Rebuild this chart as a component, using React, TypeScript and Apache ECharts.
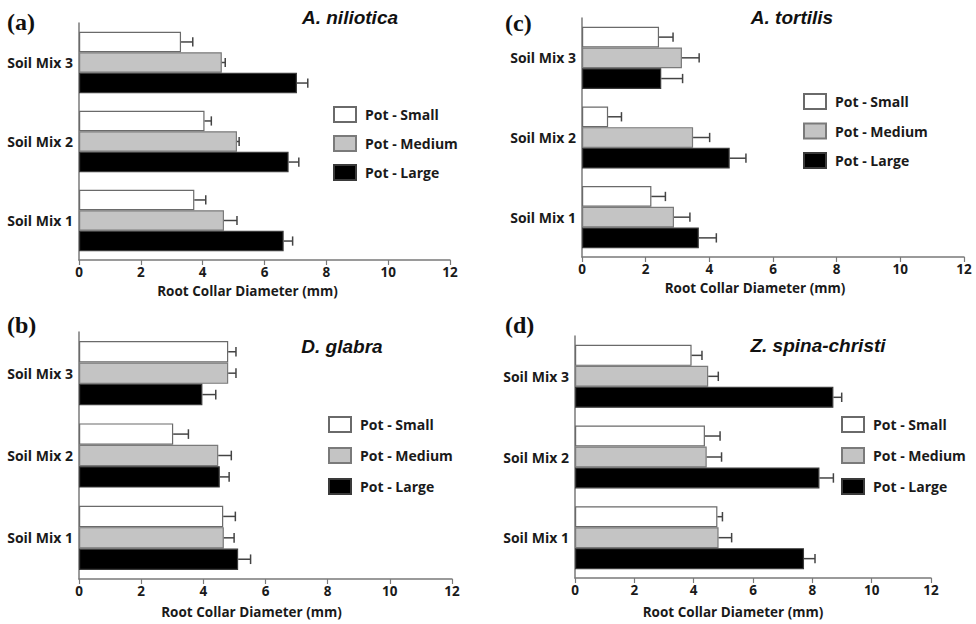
import React, { useEffect, useRef } from "react";
import * as echarts from "echarts";

const categories = ["Soil Mix 1", "Soil Mix 2", "Soil Mix 3"];
const seriesNames = ["Pot - Small", "Pot - Medium", "Pot - Large"];
const axisTitle = "Root Collar Diameter (mm)";
const xMin = 0;
const xMax = 12;
const xStep = 2;

// (a) A. niliotica
const nilSmall = [3.73, 4.06, 3.3];
const nilSmallErr = [0.37, 0.22, 0.38];
const nilMedium = [4.69, 5.11, 4.62];
const nilMediumErr = [0.42, 0.07, 0.11];
const nilLarge = [6.62, 6.78, 7.05];
const nilLargeErr = [0.29, 0.33, 0.35];

// (c) A. tortilis
const torSmall = [2.18, 0.82, 2.42];
const torSmallErr = [0.44, 0.42, 0.44];
const torMedium = [2.89, 3.49, 3.14];
const torMediumErr = [0.5, 0.52, 0.54];
const torLarge = [3.67, 4.64, 2.49];
const torLargeErr = [0.55, 0.51, 0.67];

// (b) D. glabra
const glaSmall = [4.64, 3.03, 4.8];
const glaSmallErr = [0.39, 0.49, 0.25];
const glaMedium = [4.66, 4.48, 4.8];
const glaMediumErr = [0.33, 0.42, 0.25];
const glaLarge = [5.12, 4.53, 3.97];
const glaLargeErr = [0.4, 0.3, 0.43];

// (d) Z. spina-christi
const zizSmall = [4.8, 4.38, 3.93];
const zizSmallErr = [0.17, 0.51, 0.35];
const zizMedium = [4.84, 4.44, 4.49];
const zizMediumErr = [0.44, 0.5, 0.34];
const zizLarge = [7.72, 8.24, 8.71];
const zizLargeErr = [0.37, 0.47, 0.28];

const panels = [
  {
    tag: "(a)", species: "A. niliotica",
    values: [nilSmall, nilMedium, nilLarge], errors: [nilSmallErr, nilMediumErr, nilLargeErr],
    grid: { left: 79, top: 23, width: 371, height: 237 },
    tagPos: [7, 24], titlePos: [350, 17], legendPos: [333, 106], legendGap: 12,
    nameGap: 24, nameShift: 17,
  },
  {
    tag: "(c)", species: "A. tortilis",
    values: [torSmall, torMedium, torLarge], errors: [torSmallErr, torMediumErr, torLargeErr],
    grid: { left: 582, top: 18, width: 382, height: 239 },
    tagPos: [505, 25], titlePos: [792, 17], legendPos: [803, 93], legendGap: 12.5,
    nameGap: 24, nameShift: 18,
  },
  {
    tag: "(b)", species: "D. glabra",
    values: [glaSmall, glaMedium, glaLarge], errors: [glaSmallErr, glaMediumErr, glaLargeErr],
    grid: { left: 79, top: 332, width: 373, height: 247 },
    tagPos: [7, 327], titlePos: [342, 346], legendPos: [328, 416], legendGap: 14,
    nameGap: 26, nameShift: 14,
  },
  {
    tag: "(d)", species: "Z. spina-christi",
    values: [zizSmall, zizMedium, zizLarge], errors: [zizSmallErr, zizMediumErr, zizLargeErr],
    grid: { left: 575, top: 336, width: 356, height: 242 },
    tagPos: [505, 327], titlePos: [818, 345], legendPos: [841, 416], legendGap: 14,
    nameGap: 27, nameShift: 20,
  },
];

const CAT_GAP = 0.22;
const FONT = "'Open Sans', 'Liberation Sans', sans-serif";
const barStyles = [
  { color: "#ffffff", borderColor: "#6a6a6a", borderWidth: 1.2 },
  { color: "#c4c4c4", borderColor: "#7a7a7a", borderWidth: 1.2 },
  { color: "#000000", borderColor: "#3a3a3a", borderWidth: 1.2 },
];

function buildOption() {
  const grid: any[] = [];
  const xAxis: any[] = [];
  const yAxis: any[] = [];
  const series: any[] = [];
  const legend: any[] = [];
  const graphic: any[] = [];

  panels.forEach((p, i) => {
    grid.push({ ...p.grid, containLabel: false });
    xAxis.push({
      gridIndex: i,
      type: "value",
      min: xMin,
      max: xMax,
      interval: xStep,
      name: axisTitle,
      nameLocation: "middle",
      nameGap: p.nameGap,
      nameTextStyle: {
        fontFamily: FONT, fontWeight: "bold", fontSize: 13.5, color: "#1a1a1a",
        padding: [0, p.nameShift * 2, 0, 0],
      },
      axisLine: { show: true, lineStyle: { color: "#7a7a7a", width: 1.5 } },
      axisTick: { show: true, length: 5, lineStyle: { color: "#7a7a7a", width: 1.2 } },
      axisLabel: { margin: 5, fontFamily: FONT, fontWeight: "bold", fontSize: 13.5, color: "#1a1a1a" },
      splitLine: { show: false },
    });
    yAxis.push({
      gridIndex: i,
      type: "category",
      data: categories,
      axisLine: { show: true, lineStyle: { color: "#7a7a7a", width: 1.5 } },
      axisTick: { show: false },
      axisLabel: { margin: 6, fontFamily: FONT, fontWeight: "bold", fontSize: 14, color: "#1a1a1a" },
    });
    seriesNames.forEach((name, k) => {
      series.push({
        type: "bar",
        name,
        xAxisIndex: i,
        yAxisIndex: i,
        data: p.values[k],
        barGap: "0%",
        barCategoryGap: `${CAT_GAP * 100}%`,
        itemStyle: barStyles[k],
        z: 2,
      });
    });
    seriesNames.forEach((name, k) => {
      series.push({
        type: "custom",
        name: name + " error",
        xAxisIndex: i,
        yAxisIndex: i,
        encode: { x: 0, y: 1 },
        z: 3,
        data: p.values[k].map((v, c) => [v, c, p.errors[k][c]]),
        renderItem: (params: any, api: any) => {
          const v = api.value(0);
          const c = api.value(1);
          const e = api.value(2);
          const start = api.coord([v, c]);
          const end = api.coord([v + e, c]);
          const band = api.size([0, 1])[1];
          const groupW = band * (1 - CAT_GAP);
          const bw = groupW / 3;
          const y = start[1] - groupW / 2 + bw * (k + 0.5);
          const cap = bw * 0.45;
          const st = { stroke: "#444444", lineWidth: 1.5 };
          return {
            type: "group",
            children: [
              { type: "line", shape: { x1: start[0], y1: y, x2: end[0], y2: y }, style: st },
              { type: "line", shape: { x1: end[0], y1: y - cap / 2, x2: end[0], y2: y + cap / 2 }, style: st },
            ],
          };
        },
      });
    });
    legend.push({
      data: seriesNames,
      orient: "vertical",
      left: p.legendPos[0],
      top: p.legendPos[1],
      padding: 0,
      itemWidth: 22,
      itemHeight: 15,
      itemGap: p.legendGap,
      icon: "rect",
      selectedMode: false,
      textStyle: { fontFamily: FONT, fontWeight: "bold", fontSize: 14, color: "#1a1a1a", padding: [0, 0, 0, 4] },
    });
    graphic.push({
      type: "text",
      left: p.tagPos[0],
      top: p.tagPos[1] - 14,
      style: {
        text: p.tag,
        font: "bold 24px 'Liberation Serif', 'DejaVu Serif', serif",
        fill: "#111111",
      },
    });
    graphic.push({
      type: "text",
      x: p.titlePos[0],
      y: p.titlePos[1],
      style: {
        text: p.species,
        font: "italic bold 19px 'Liberation Sans', Arial, sans-serif",
        fill: "#111111",
        textAlign: "center",
        textVerticalAlign: "middle",
      },
    });
  });

  return {
    animation: false,
    backgroundColor: "#ffffff",
    grid,
    xAxis,
    yAxis,
    legend,
    series,
    graphic,
  };
}

export default function App() {
  const ref = useRef<HTMLDivElement>(null);
  useEffect(() => {
    if (!ref.current) return;
    const chart = echarts.init(ref.current, undefined, { renderer: "svg" });
    chart.setOption(buildOption() as any);
    return () => chart.dispose();
  }, []);
  return (
    <div
      ref={ref}
      style={{ position: "fixed", left: 0, top: 0, width: 976, height: 624, background: "#fff" }}
    />
  );
}
